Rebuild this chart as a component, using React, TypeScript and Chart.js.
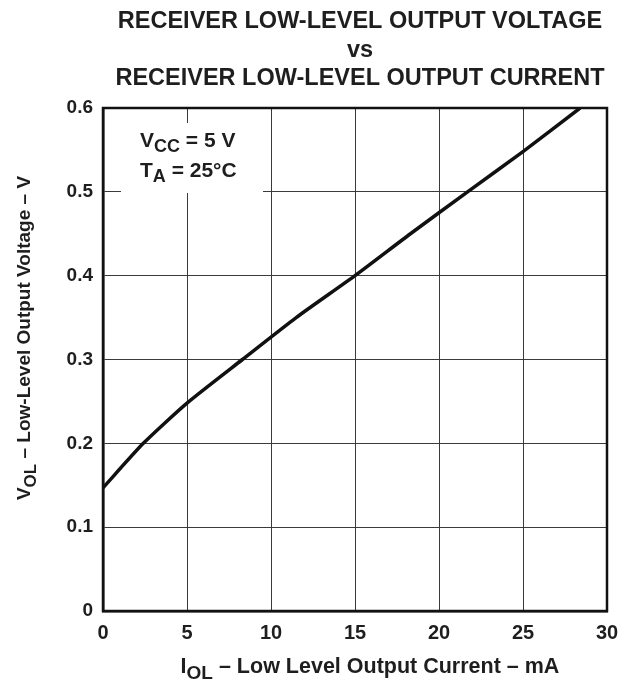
import React, { useEffect, useRef } from "react";
import { Chart, registerables } from "chart.js";

Chart.register(...registerables);

// Data
const currentMA: number[] = [0, 2.4, 5, 8.3, 11.5, 15, 18.3, 21.7, 25, 28.4];
const voltageV: number[] = [0.147, 0.2, 0.248, 0.3, 0.35, 0.4, 0.45, 0.5, 0.548, 0.6];

const xTicks: number[] = [0, 5, 10, 15, 20, 25, 30];
const yTicks: number[] = [0, 0.1, 0.2, 0.3, 0.4, 0.5, 0.6];

const titleLines: string[] = [
  "RECEIVER LOW-LEVEL OUTPUT VOLTAGE",
  "vs",
  "RECEIVER LOW-LEVEL OUTPUT CURRENT",
];

type Seg = { t: string; sub?: boolean };
const xTitle: Seg[] = [{ t: "I" }, { t: "OL", sub: true }, { t: " – Low Level Output Current – mA" }];
const yTitle: Seg[] = [{ t: "V" }, { t: "OL", sub: true }, { t: " – Low-Level Output Voltage – V" }];
const cond1: Seg[] = [{ t: "V" }, { t: "CC", sub: true }, { t: " = 5 V" }];
const cond2: Seg[] = [{ t: "T" }, { t: "A", sub: true }, { t: " = 25°C" }];

const FONT = "'Liberation Sans', Arial, Helvetica, sans-serif";
const INK = "#1e1e1e";

function segWidth(ctx: CanvasRenderingContext2D, segs: Seg[], size: number, subSize: number) {
  let w = 0;
  for (const s of segs) {
    ctx.font = `bold ${s.sub ? subSize : size}px ${FONT}`;
    w += ctx.measureText(s.t).width;
  }
  return w;
}

function drawSegs(
  ctx: CanvasRenderingContext2D,
  segs: Seg[],
  x: number,
  y: number,
  size: number,
  subSize: number,
  subOff: number
) {
  let cx = x;
  ctx.textBaseline = "alphabetic";
  ctx.textAlign = "left";
  for (const s of segs) {
    ctx.font = `bold ${s.sub ? subSize : size}px ${FONT}`;
    ctx.fillText(s.t, cx, s.sub ? y + subOff : y);
    cx += ctx.measureText(s.t).width;
  }
}

const decorPlugin = {
  id: "decor",
  beforeDatasetsDraw(chart: any) {
    const { ctx, chartArea } = chart;
    ctx.save();
    // white box behind the conditions
    const bx = chartArea.left + 18;
    const by = chartArea.top + 15;
    ctx.fillStyle = "#ffffff";
    ctx.fillRect(bx, by, 142, 70);
    ctx.fillStyle = INK;
    drawSegs(ctx, cond1, chartArea.left + 37, chartArea.top + 39, 21, 18, 5);
    drawSegs(ctx, cond2, chartArea.left + 37, chartArea.top + 69, 21, 18, 5);
    ctx.restore();
  },
  afterDraw(chart: any) {
    const { ctx, chartArea } = chart;
    ctx.save();
    // frame
    ctx.strokeStyle = "#111";
    ctx.lineWidth = 2.5;
    ctx.strokeRect(chartArea.left, chartArea.top, chartArea.right - chartArea.left, chartArea.bottom - chartArea.top);

    ctx.fillStyle = INK;
    ctx.textAlign = "center";
    ctx.textBaseline = "alphabetic";
    ctx.font = `bold 23.5px ${FONT}`;
    const baselines = [28, 57, 85];
    titleLines.forEach((l, i) => ctx.fillText(l, 360, baselines[i]));

    // x title
    const wx = segWidth(ctx, xTitle, 21.5, 19);
    drawSegs(ctx, xTitle, 370 - wx / 2, 673, 21.5, 19, 6);

    // y title
    const wy = segWidth(ctx, yTitle, 19, 17);
    ctx.translate(30, 338);
    ctx.rotate(-Math.PI / 2);
    drawSegs(ctx, yTitle, -wy / 2, 0, 19, 17, 6);
    ctx.restore();
  },
};

export default function App() {
  const ref = useRef<HTMLCanvasElement | null>(null);
  useEffect(() => {
    document.body.style.margin = "0";
    const canvas = ref.current;
    if (!canvas) return;
    const chart = new Chart(canvas, {
      type: "line",
      data: {
        datasets: [
          {
            data: currentMA.map((x, i) => ({ x, y: voltageV[i] })),
            borderColor: "#111",
            borderWidth: 3.5,
            pointRadius: 0,
            tension: 0.2,
            fill: false,
          },
        ],
      },
      options: {
        animation: false,
        responsive: false,
        maintainAspectRatio: false,
        layout: { padding: { top: 108, right: 15, left: 0, bottom: 0 } },
        plugins: { legend: { display: false }, tooltip: { enabled: false }, title: { display: false } },
        scales: {
          x: {
            type: "linear",
            min: 0,
            max: 30,
            afterFit: (s: any) => {
              s.height = 70;
              s.paddingRight = 0;
              s.paddingLeft = 0;
            },
            afterBuildTicks: (s: any) => {
              s.ticks = xTicks.map((v) => ({ value: v }));
            },
            ticks: {
              color: INK,
              font: { family: FONT, size: 20, weight: "bold" },
              padding: 10,
              maxRotation: 0,
              callback: (v: any) => String(v),
            },
            grid: { color: "#3a3a3a", lineWidth: 1, drawTicks: false },
            border: { color: "#111", width: 2.5 },
          },
          y: {
            type: "linear",
            min: 0,
            max: 0.6,
            afterFit: (s: any) => {
              s.width = 103;
              s.paddingTop = 0;
              s.paddingBottom = 0;
            },
            afterBuildTicks: (s: any) => {
              s.ticks = yTicks.map((v) => ({ value: v }));
            },
            ticks: {
              color: INK,
              font: { family: FONT, size: 19, weight: "bold" },
              padding: 10,
              callback: (v: any) => (Number(v) === 0 ? "0" : Number(v).toFixed(1)),
            },
            grid: { color: "#3a3a3a", lineWidth: 1, drawTicks: false },
            border: { color: "#111", width: 2.5 },
          },
        },
      },
      plugins: [decorPlugin],
    });
    return () => chart.destroy();
  }, []);
  return (
    <div style={{ width: 622, height: 681, background: "#fff" }}>
      <canvas ref={ref} width={622} height={681} style={{ display: "block" }} />
    </div>
  );
}
